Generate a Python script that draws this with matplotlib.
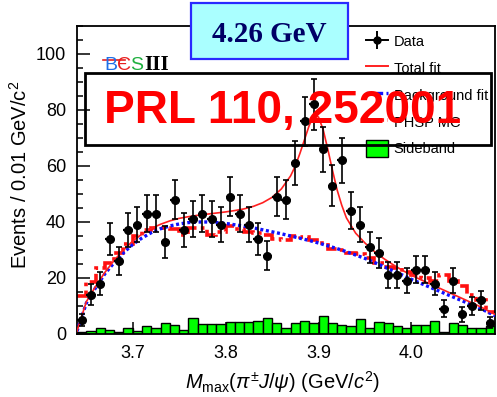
import numpy as np
import matplotlib
matplotlib.use('Agg')
import matplotlib.pyplot as plt
from matplotlib.lines import Line2D
from matplotlib.patches import Rectangle, Patch
from matplotlib.ticker import MultipleLocator
from matplotlib.legend_handler import HandlerTuple

plt.rcParams['font.family'] = ['Liberation Sans', 'DejaVu Sans']
plt.rcParams['mathtext.fontset'] = 'custom'
plt.rcParams['mathtext.rm'] = 'Liberation Sans'
plt.rcParams['mathtext.it'] = 'Liberation Sans:italic'
plt.rcParams['mathtext.bf'] = 'Liberation Sans:bold'

# ---------------- data ----------------
mass_min = 3.64
bin_width = 0.01

data_counts = [5, 14, 18, 34, 26, 37, 39, 43, 43, 33,
               48, 37, 41, 43, 41, 39, 49, 43, 39, 34,
               28, 49, 48, 61, 76, 82, 66, 53, 62, 44,
               39, 31, 29, 21, 21, 19, 23, 23, 18, 9,
               19, 7, 10, 12, 4]
data_errors = [2.2, 3.7, 4.2, 5.8, 5.1, 6.1, 6.2, 6.6, 6.6, 5.7,
               6.9, 6.1, 6.4, 6.6, 6.4, 6.2, 7.0, 6.6, 6.2, 5.8,
               5.3, 7.0, 6.9, 7.8, 8.7, 9.1, 8.1, 7.3, 7.9, 6.6,
               6.2, 5.6, 5.4, 4.6, 4.6, 4.4, 4.8, 4.8, 4.2, 3.0,
               4.4, 2.6, 3.2, 3.5, 2.0]
sideband = [0.6, 0.9, 2.2, 1.6, 0.6, 2.2, 1.0, 2.8, 2.2, 3.8,
            3.2, 1.6, 5.7, 3.6, 3.6, 3.6, 4.4, 4.4, 4.4, 4.7,
            5.7, 3.8, 2.2, 4.0, 4.6, 3.8, 6.4, 3.8, 3.1, 2.8,
            5.2, 2.2, 4.4, 3.8, 2.8, 2.2, 3.1, 3.1, 4.6, 0.8,
            4.0, 3.1, 2.2, 2.2, 2.8]
phsp_mc = [13.5, 18.5, 23.5, 25.5, 29.0, 32.0, 35.0, 37.0, 38.0, 38.0,
           37.5, 35.5, 38.0, 38.0, 35.5, 36.5, 38.5, 37.5, 36.5, 36.0,
           35.5, 34.0, 33.5, 35.0, 34.5, 33.5, 32.5, 30.5, 30.0, 29.0,
           28.5, 27.0, 25.5, 24.0, 23.5, 22.0, 21.0, 20.0, 19.0, 21.0,
           19.0, 17.0, 14.0, 12.0, 8.0]
bkg_x = [3.64, 3.65, 3.66, 3.67, 3.68, 3.69, 3.70, 3.71, 3.72, 3.73,
         3.74, 3.75, 3.76, 3.77, 3.78, 3.79, 3.80, 3.81, 3.82, 3.83,
         3.84, 3.85, 3.86, 3.87, 3.88, 3.89, 3.90, 3.91, 3.92, 3.93,
         3.94, 3.95, 3.96, 3.97, 3.98, 3.99, 4.00, 4.01, 4.02, 4.03,
         4.04, 4.05, 4.06, 4.07, 4.08, 4.09]
bkg_fit = [1.0, 11.0, 16.5, 21.5, 25.5, 29.0, 32.0, 34.3, 36.2, 37.6,
           38.6, 39.3, 39.8, 40.0, 40.0, 39.8, 39.5, 39.0, 38.5, 37.9,
           37.2, 36.5, 35.8, 35.0, 34.2, 33.4, 32.5, 31.5, 30.5, 29.4,
           28.2, 27.0, 25.6, 24.1, 22.6, 21.1, 19.5, 18.1, 16.7, 15.3,
           13.9, 12.5, 11.1, 9.7, 8.2, 6.5]
total_x = [3.64, 3.65, 3.66, 3.67, 3.68, 3.69, 3.70, 3.71, 3.72, 3.73,
           3.74, 3.75, 3.76, 3.77, 3.78, 3.79, 3.80, 3.81, 3.82, 3.83,
           3.84, 3.85, 3.86, 3.87, 3.875, 3.88, 3.885, 3.89, 3.895, 3.90,
           3.905, 3.91, 3.915, 3.92, 3.925, 3.93, 3.94, 3.95, 3.96, 3.97,
           3.98, 3.99, 4.00, 4.01, 4.02, 4.03, 4.04, 4.05, 4.06, 4.07,
           4.08, 4.09]
total_fit = [1.0, 11.5, 17.0, 22.0, 26.3, 30.0, 33.2, 35.7, 37.7, 39.2,
             40.4, 41.3, 41.9, 42.4, 42.8, 43.2, 43.6, 44.1, 44.7, 45.6,
             46.9, 48.8, 51.8, 56.5, 60.0, 64.5, 69.5, 74.5, 78.0, 77.5,
             73.0, 66.0, 58.5, 51.5, 46.0, 41.5, 36.0, 32.5, 29.5, 27.0,
             24.8, 22.8, 21.0, 19.4, 17.9, 16.4, 14.9, 13.4, 11.9, 10.4,
             8.8, 7.0]
x_ticks = [3.7, 3.8, 3.9, 4.0]
x_ticklabels = ['3.7', '3.8', '3.9', '4.0']
y_ticks = [0, 20, 40, 60, 80, 100]
legend_labels = ['Data', 'Total fit', 'Background fit', 'PHSP MC', 'Sideband']

# ---------------- figure ----------------
W, H = 497, 397
fig = plt.figure(figsize=(W / 100, H / 100), dpi=100)
fig.patch.set_facecolor('white')


def fx(px):
    return px / W


def fy(py):
    return 1 - py / H


ax = fig.add_axes([fx(77), fy(334), fx(495) - fx(77), fy(26) - fy(334)])

edges = mass_min + bin_width * np.arange(len(data_counts) + 1)
centers = edges[:-1] + bin_width / 2

ax.bar(centers, sideband, width=bin_width, color='#00ff00',
       edgecolor='black', linewidth=1.0, zorder=1)
ax.stairs(phsp_mc, edges, baseline=None, color='#ff1010', lw=2.6,
          linestyle=(0, (4, 1.2, 1, 1.2)), zorder=2)
ax.plot(bkg_x, bkg_fit, color='#1010ff', lw=2.4, linestyle=(0, (0.9, 0.8)),
        zorder=3)
ax.plot(total_x, total_fit, color='#ff2020', lw=1.2, zorder=4)
ax.errorbar(centers, data_counts, yerr=data_errors, fmt='none',
            ecolor='black', elinewidth=1.2, capsize=2.5, capthick=1.2,
            zorder=5)
ax.errorbar(centers, data_counts, xerr=bin_width / 2, fmt='o', color='black',
            ms=5.5, elinewidth=1.6, capsize=0, zorder=6)

ax.set_xlim(3.64, 4.09)
ax.set_ylim(0, 110)
ax.set_xticks(x_ticks)
ax.set_xticklabels(x_ticklabels)
ax.set_yticks(y_ticks)
ax.yaxis.set_minor_locator(MultipleLocator(5))
ax.tick_params(which='both', direction='in', top=False, right=False,
               labelsize=13, pad=8, width=1.1)
ax.tick_params(which='major', length=9)
ax.tick_params(which='minor', length=4.5)
for s in ax.spines.values():
    s.set_linewidth(1.3)

ax.set_xlabel(r'$M_{\mathrm{max}}(\pi^{\pm}J/\psi)$ (GeV/$c^{2}$)', fontsize=14.5)
ax.set_ylabel('Events / 0.01 GeV/c$^{\\mathrm{2}}$', fontsize=14.5)
ax.xaxis.set_label_coords((283 - 77) / 418, (334 - 369) / 308)
ax.yaxis.set_label_coords((31 - 77) / 418, (334 - 175) / 308)

# legend
h_data = (Line2D([], [], color='black', lw=1.4, marker='o', ms=5),
          Line2D([], [], color='black', lw=0, marker='|', ms=13, mew=1.4))
h_tot = Line2D([], [], color='#ff2020', lw=1.4)
h_bkg = Line2D([], [], color='#1010ff', lw=2.4, linestyle=(0, (2, 1)))
h_phsp = Line2D([], [], color='#ff1010', lw=2.6, linestyle=(0, (2, 1)))
h_sb = Patch(facecolor='#00ff00', edgecolor='black', lw=1.0)
ax.legend([h_data, h_tot, h_bkg, h_phsp, h_sb], legend_labels,
          handler_map={tuple: HandlerTuple(ndivide=1, pad=0)},
          loc='upper left', bbox_to_anchor=(fx(366), fy(33)),
          bbox_transform=fig.transFigure, frameon=False, fontsize=10.5,
          borderpad=0, borderaxespad=0, handlelength=1.5,
          handleheight=1.4, handletextpad=0.4, labelspacing=0.68)

# BESIII logo
logo_font = ['Liberation Sans', 'DejaVu Sans']
fig.text(fx(104), fy(70), 'B', color='#1f6fe8', fontsize=14,
         family=logo_font, zorder=12)
fig.text(fx(117), fy(70), '\u0404', color='#e82020', fontsize=14,
         family=logo_font, zorder=12)
fig.text(fx(130), fy(70), 'S', color='#20b040', fontsize=14,
         family=logo_font, zorder=12)
fig.text(fx(144), fy(70), 'III', color='black', fontsize=15,
         family='Liberation Serif', weight='bold', zorder=12)
fig.add_artist(Line2D([fx(103), fx(125)], [fy(60), fy(60)], color='#e82020',
                      lw=1.2, zorder=12))

# 4.26 GeV box
fig.add_artist(Rectangle((fx(191), fy(59)), fx(348) - fx(191),
                         fy(3) - fy(59), transform=fig.transFigure,
                         facecolor='#aaffff', edgecolor='#2a2aff', lw=1.6,
                         zorder=10))
fig.text(fx(269.5), fy(42), '4.26 GeV', ha='center', va='baseline',
         fontsize=21, family='Liberation Serif', weight='bold',
         color='#000066', zorder=11)

# PRL box
fig.add_artist(Rectangle((fx(85), fy(145)), fx(491) - fx(85),
                         fy(73) - fy(145), transform=fig.transFigure,
                         fill=False, edgecolor='black', lw=2.0, zorder=10))
fig.text(fx(282.5), fy(123), 'PRL 110, 252001', ha='center', va='baseline',
         fontsize=33, weight='bold', color='#ff0000', zorder=11)

fig.savefig('out.png', dpi=100)
